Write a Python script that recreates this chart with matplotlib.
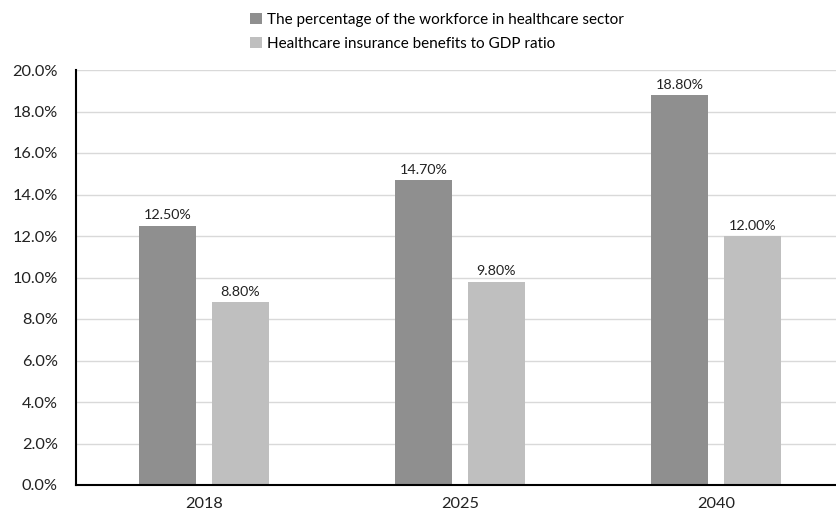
import matplotlib
matplotlib.use("Agg")
import matplotlib.pyplot as plt
import numpy as np
from matplotlib.ticker import FuncFormatter

years = ["2018", "2025", "2040"]
workforce_share = [12.5, 14.7, 18.8]
insurance_to_gdp = [8.8, 9.8, 12.0]
series_names = [
    "The percentage of the workforce in healthcare sector",
    "Healthcare insurance benefits to GDP ratio",
]
y_ticks = [0, 2, 4, 6, 8, 10, 12, 14, 16, 18, 20]

plt.rcParams["font.family"] = ["Lato", "DejaVu Sans"]

W, H = 837, 520
fig = plt.figure(figsize=(W / 100, H / 100), dpi=100)
ax = fig.add_axes([76 / W, 35 / H, 761 / W, 415 / H])

x = np.arange(len(years))
bw = 0.223
off = 0.142
dark, light = "#8f8f8f", "#bfbfbf"
b1 = ax.bar(x - off, workforce_share, bw, color=dark, label=series_names[0], zorder=3)
b2 = ax.bar(x + off, insurance_to_gdp, bw, color=light, label=series_names[1], zorder=3)

for bars, vals in ((b1, workforce_share), (b2, insurance_to_gdp)):
    for rect, v in zip(bars, vals):
        ax.annotate(f"{v:.2f}%", (rect.get_x() + rect.get_width() / 2, v),
                    xytext=(0, 3), textcoords="offset points",
                    ha="center", va="bottom", fontsize=10.3, color="#222222")

ax.set_xlim(-0.5, -0.5 + 761 / 256)
ax.set_ylim(0, 20)
ax.set_yticks(y_ticks)
ax.yaxis.set_major_formatter(FuncFormatter(lambda v, p: f"{v:.1f}%"))
ax.set_xticks(x)
ax.set_xticklabels(years)
ax.tick_params(axis="both", length=0, labelsize=11.8, colors="#222222")
ax.tick_params(axis="x", pad=9)
ax.tick_params(axis="y", pad=13)
ax.grid(axis="y", color="#d9d9d9", linewidth=1, zorder=0)
ax.set_axisbelow(True)
for s in ("top", "right"):
    ax.spines[s].set_visible(False)
for s in ("left", "bottom"):
    ax.spines[s].set_color("black")
    ax.spines[s].set_linewidth(1.5)
    ax.spines[s].set_zorder(4)

fig.legend(handles=[b1, b2], labels=series_names, loc="upper left",
           bbox_to_anchor=(244 / W, 1 - 7 / H), frameon=False, ncol=1,
           fontsize=11.0, handlelength=0.75, handleheight=0.75,
           handletextpad=0.35, labelspacing=0.65, borderaxespad=0)

fig.savefig("out.png", dpi=100)
